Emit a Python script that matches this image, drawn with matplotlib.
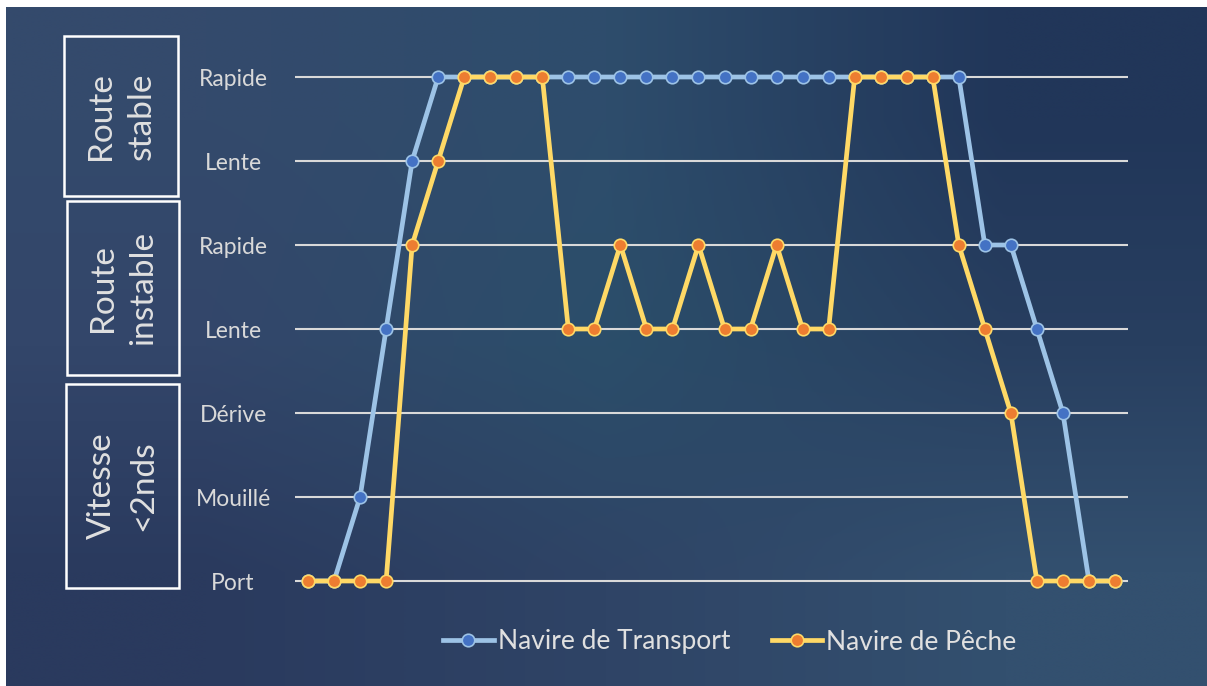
import numpy as np
import matplotlib
matplotlib.use("Agg")
import matplotlib.pyplot as plt
from matplotlib.colors import to_rgb
from matplotlib.patches import Rectangle

# speed levels, bottom to top
levels = ["Port", "Mouillé", "Dérive", "Lente", "Rapide", "Lente", "Rapide"]

# one reading per time step (index into levels)
transport = [0, 0, 1, 3, 5, 6, 6, 6, 6, 6, 6, 6, 6, 6, 6, 6,
             6, 6, 6, 6, 6, 6, 6, 6, 6, 6, 4, 4, 3, 2, 0, 0]
peche = [0, 0, 0, 0, 4, 5, 6, 6, 6, 6, 3, 3, 4, 3, 3, 4,
         3, 3, 4, 3, 3, 6, 6, 6, 6, 4, 3, 2, 0, 0, 0, 0]

groups = ["Route\nstable", "Route\ninstable", "Vitesse\n<2nds"]

plt.rcParams["font.family"] = ["Lato", "DejaVu Sans"]

W, H = 1207, 686
fig = plt.figure(figsize=(W / 100, H / 100), dpi=100, facecolor="white")

# gradient background
bg = fig.add_axes([6 / W, 0, 1 - 6 / W, 1 - 7 / H])
grid = [["#344a6c", "#2e4d6c", "#213659"],
        ["#33466a", "#2b4e6a", "#283f60"],
        ["#2a3a5e", "#2f4466", "#33506f"]]
img = np.array([[to_rgb(c) for c in row] for row in grid])
bg.imshow(img, aspect="auto", interpolation="bilinear", extent=[0, 1, 0, 1])
bg.set_axis_off()
bg.set_zorder(-10)

ax = fig.add_axes([295 / W, 1 - 623 / H, 833 / W, 588 / H])
ax.patch.set_alpha(0)
x = np.arange(len(transport))

for i in range(len(levels)):
    ax.axhline(i, color="#d9d9d9", lw=1.5, zorder=1)

ax.plot(x, transport, color="#9dc3e6", lw=3.4, marker="o", ms=9,
        mfc="#4472c4", mec="#9dc3e6", mew=1.2, zorder=3,
        label="Navire de Transport")
ax.plot(x, peche, color="#ffd966", lw=3.4, marker="o", ms=9,
        mfc="#ed7d31", mec="#ffd966", mew=1.2, zorder=4,
        label="Navire de Pêche")

ax.set_xlim(-0.5, len(x) - 0.5)
ax.set_ylim(-0.5, 6.5)
ax.set_xticks([])
ax.set_yticks(range(len(levels)))
ax.set_yticklabels(levels, color="#d9d9d9", fontsize=16.5)
for lab in ax.get_yticklabels():
    lab.set_horizontalalignment("center")
ax.tick_params(axis="y", length=0, pad=44.6)
for s in ax.spines.values():
    s.set_visible(False)

# group boxes on the left
boxes = [(64, 36, 178, 196), (67, 201, 179, 375), (66, 384, 179, 588)]
for (x0, y0, x1, y1), name in zip(boxes, groups):
    fig.patches.append(Rectangle((x0 / W, 1 - y1 / H), (x1 - x0) / W, (y1 - y0) / H,
                                 transform=fig.transFigure, fill=False,
                                 ec="white", lw=1.8))
    fig.text((x0 + x1) / 2 / W, 1 - (y0 + y1) / 2 / H, name, rotation=90,
             ha="center", va="center", color="#e0e0e0", fontsize=24,
             linespacing=1.45, multialignment="center")

fig.legend(loc="center", bbox_to_anchor=(730 / W, 1 - 642 / H), ncol=2,
           frameon=False, fontsize=19, labelcolor="#e0e0e0",
           handlelength=1.9, handletextpad=0.15, columnspacing=1.6)

fig.savefig("out.png", dpi=100, facecolor="white")
